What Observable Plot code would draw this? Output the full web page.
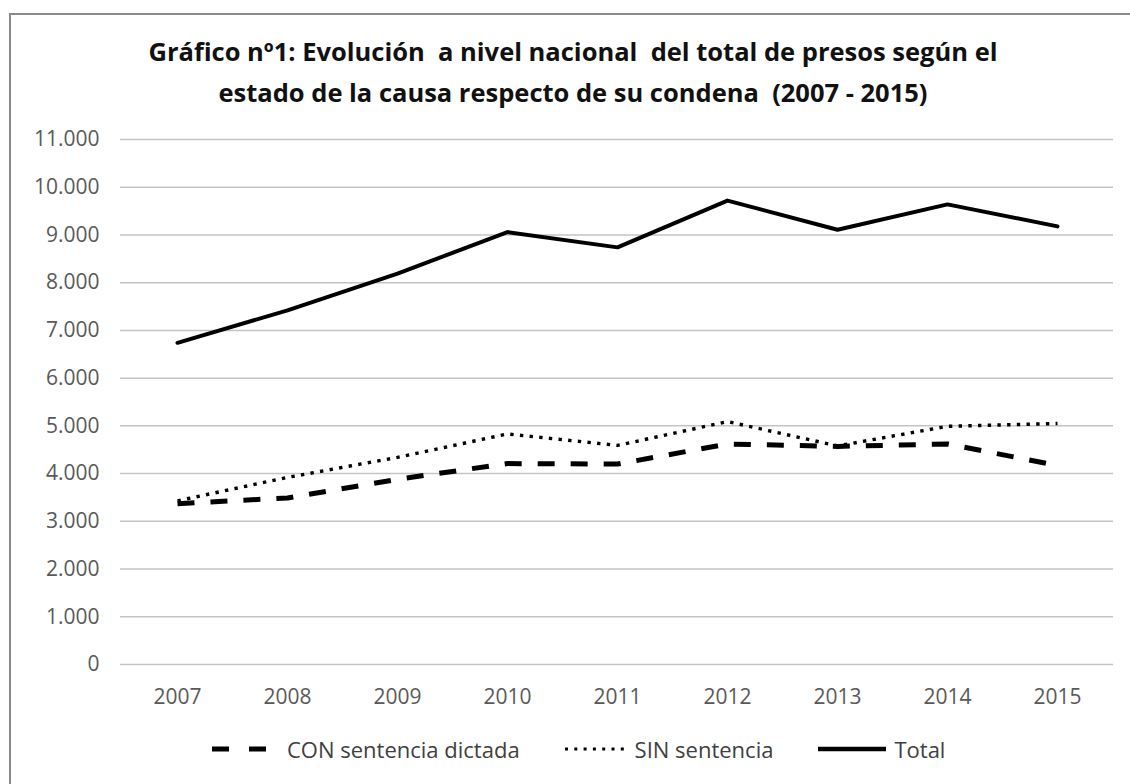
<!DOCTYPE html>
<html><head><meta charset="utf-8">
<script src="https://cdn.jsdelivr.net/npm/d3@7"></script>
<script src="https://cdn.jsdelivr.net/npm/@observablehq/plot@0.6"></script>
<style>
body{margin:0;background:#fff;}
#wrap{position:relative;width:1130px;height:784px;overflow:hidden;font-family:"Open Sans",sans-serif;background:#fff;}
#frame{position:absolute;left:9px;top:13px;width:1200px;height:900px;border-left:2px solid #8a8a8a;border-top:2px solid #8a8a8a;box-sizing:border-box;}
#title{position:absolute;left:8px;width:1130px;top:31px;text-align:center;font-weight:700;font-size:25.5px;line-height:41px;color:#111;white-space:pre;}
#chart{position:absolute;left:0;top:0;}
#legend{position:absolute;top:734px;left:212px;height:30px;display:flex;align-items:center;font-size:22px;color:#404040;white-space:nowrap;}
#legend svg{display:block;}
</style>
</head><body>
<div id="wrap">
  <div id="frame"></div>
  <div id="chart"></div>
  <div id="title"></div>
  <div id="legend"></div>
</div>
<script>
// ---- data ----
const titleLines = ["Gráfico nº1: Evolución  a nivel nacional  del total de presos según el", "estado de la causa respecto de su condena  (2007 - 2015)"];
const years = ["2007","2008","2009","2010","2011","2012","2013","2014","2015"];
const conSentencia = [3370, 3490, 3880, 4210, 4200, 4620, 4570, 4620, 4170];
const sinSentencia = [3430, 3920, 4340, 4830, 4590, 5090, 4580, 4990, 5050];
const total = [6740, 7420, 8190, 9060, 8740, 9720, 9110, 9640, 9180];
const seriesNames = ["CON sentencia dictada", "SIN sentencia", "Total"];
const yTicks = [0,1000,2000,3000,4000,5000,6000,7000,8000,9000,10000,11000];

const esLocale = d3.formatLocale({decimal: ",", thousands: ".", grouping: [3], currency: ["", "€"]});
const fmt = esLocale.format(",d");

const rows = [];
[conSentencia, sinSentencia, total].forEach((arr, s) => {
  arr.forEach((v, i) => rows.push({year: years[i], series: seriesNames[s], value: v}));
});

const styles = {
  "CON sentencia dictada": {strokeWidth: 5, strokeDasharray: "17,16", strokeLinecap: "butt"},
  "SIN sentencia": {strokeWidth: 3.4, strokeDasharray: "3.4,6.3", strokeLinecap: "butt"},
  "Total": {strokeWidth: 4, strokeDasharray: null, strokeLinecap: "round"}
};

const chart = Plot.plot({
  width: 1130,
  height: 720,
  marginTop: 139,
  marginBottom: 56,
  marginLeft: 120,
  marginRight: 17,
  style: {background: "transparent", fontFamily: "Open Sans, sans-serif", fontSize: "21px", color: "#595959", overflow: "visible"},
  x: {type: "point", domain: years, padding: 0.5, tickSize: 0, tickPadding: 25, label: null},
  y: {domain: [0, 11000], ticks: yTicks, tickSize: 0, tickPadding: 21, tickFormat: fmt, label: null},
  marks: [
    Plot.ruleY(yTicks, {stroke: "#c4c4c4", strokeWidth: 1.5}),
    ...seriesNames.map(name => Plot.line(rows.filter(r => r.series === name), {
      x: "year", y: "value", stroke: "#000", strokeLinejoin: "round", ...styles[name]
    }))
  ]
});
document.getElementById("chart").appendChild(chart);

const t = document.getElementById("title");
titleLines.forEach(l => { const d = document.createElement("div"); d.textContent = l; t.appendChild(d); });

// legend
const leg = document.getElementById("legend");
function sample(w, st) {
  const ns = "http://www.w3.org/2000/svg";
  const svg = document.createElementNS(ns, "svg");
  svg.setAttribute("width", w); svg.setAttribute("height", 12);
  const ln = document.createElementNS(ns, "line");
  ln.setAttribute("x1", 0); ln.setAttribute("x2", w); ln.setAttribute("y1", 6); ln.setAttribute("y2", 6);
  ln.setAttribute("stroke", "#000");
  ln.setAttribute("stroke-width", st.w);
  if (st.dash) ln.setAttribute("stroke-dasharray", st.dash);
  svg.appendChild(ln);
  return svg;
}
const legendSpec = [
  {name: seriesNames[0], w: 54, st: {w: 5, dash: "17,20"}, gapBefore: 0, gapText: 21},
  {name: seriesNames[1], w: 63, st: {w: 3, dash: "3,6.3"}, gapBefore: 45, gapText: 7},
  {name: seriesNames[2], w: 68, st: {w: 4.5}, gapBefore: 45, gapText: 8}
];
legendSpec.forEach(s => {
  const sv = sample(s.w, s.st);
  sv.style.marginLeft = s.gapBefore + "px";
  leg.appendChild(sv);
  const sp = document.createElement("span");
  sp.textContent = s.name;
  sp.style.marginLeft = s.gapText + "px";
  leg.appendChild(sp);
});
</script>
</body></html>
